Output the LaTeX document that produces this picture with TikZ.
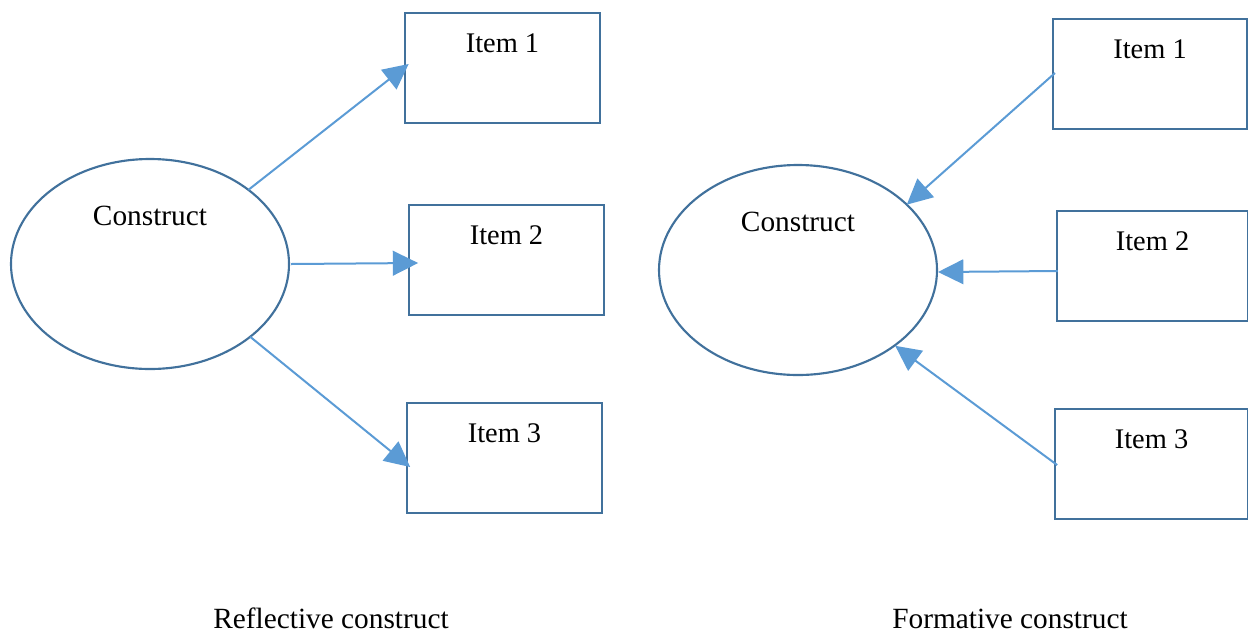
\documentclass[tikz,border=0pt]{standalone}
\usepackage{fontspec}
\setmainfont{Liberation Serif}
\usetikzlibrary{arrows.meta,shapes.geometric}
\definecolor{outline}{HTML}{41719C}
\definecolor{link}{HTML}{5B9BD5}
\begin{document}
\begin{tikzpicture}[x=0.75pt,y=-0.75pt,
  construct/.style={ellipse,draw=outline,line width=1.6pt,inner sep=0pt,outer sep=0pt,
    minimum width=208.5pt,minimum height=157.5pt},
  itembox/.style={rectangle,draw=outline,line width=1.6pt,inner sep=0pt,outer sep=0pt,
    minimum width=146pt,minimum height=82.5pt},
  txt/.style={anchor=base,inner sep=0pt,font=\fontsize{22pt}{26pt}\selectfont},
  itemtxt/.style={txt,font=\fontsize{21.3pt}{25pt}\selectfont},
  link/.style={draw=link,line width=1.5pt,-{Triangle[length=19pt,width=18.5pt]}}]
\useasboundingbox (0,0) rectangle (1248,633);

% reflective model: the construct points to its items
\node[construct] (L) at (150,264) {};
\node[itembox] (l1) at (502.5,68) {};
\node[itembox] (l2) at (506.5,260) {};
\node[itembox] (l3) at (504.5,458) {};
\node[txt] (Lt) at ([shift={(0,66.5)}]L.north) {Construct};
\node[itemtxt] (l1t) at ([shift={(0,39.5)}]l1.north) {Item 1};
\node[itemtxt] (l2t) at ([shift={(0,39.5)}]l2.north) {Item 2};
\node[itemtxt] (l3t) at ([shift={(0,39.5)}]l3.north) {Item 3};
\draw[link] (L.37.6) -- ([shift={(3.5,-4)}]l1.west);
\draw[link] ([shift={(2,0)}]L.east) -- ([shift={(9,3)}]l2.west);
\draw[link] (L.-36.7) -- ([shift={(3,9)}]l3.west);

% formative model: the items point to the construct
\node[construct] (R) at (798,270) {};
\node[itembox,minimum width=145.5pt] (r1) at (1150,74) {};
\node[itembox,minimum width=143.5pt] (r2) at (1152.5,266) {};
\node[itembox,minimum width=144.5pt] (r3) at (1151.5,464) {};
\node[txt] (Rt) at ([shift={(0,66.5)}]R.north) {Construct};
\node[itemtxt] (r1t) at ([shift={(0,39.5)}]r1.north) {Item 1};
\node[itemtxt] (r2t) at ([shift={(0,39.5)}]r2.north) {Item 2};
\node[itemtxt] (r3t) at ([shift={(0,39.5)}]r3.north) {Item 3};
\draw[link] ([shift={(2,-1)}]r1.west) -- (R.31.2);
\draw[link] ([shift={(1,5)}]r2.west) -- ([shift={(1,2)}]R.east);
\draw[link] ([shift={(2,1)}]r3.west) -- ([shift={(-3,3)}]R.-36.2);

% captions
\node[txt] (capL) at (331,628) {Reflective construct};
\node[txt] (capR) at (1010,628) {Formative construct};
\end{tikzpicture}
\end{document}
